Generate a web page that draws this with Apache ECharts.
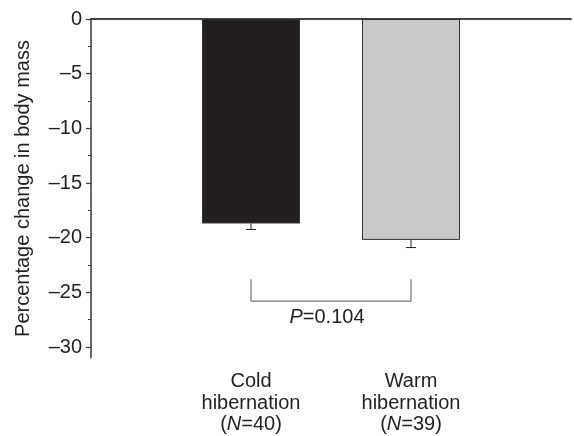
<!DOCTYPE html>
<html>
<head>
<meta charset="utf-8">
<script src="https://cdn.jsdelivr.net/npm/echarts@6/dist/echarts.min.js"></script>
<style>
  html, body { margin: 0; padding: 0; background: #fff; }
  #chart { width: 574px; height: 436px; }
</style>
</head>
<body>
<div id="chart"></div>
<script>
// categories (empty ends give the space either side of the two bars)
var categories = ['', 'Cold hibernation', 'Warm hibernation', ''];
var groupNames = ['Cold', 'Warm'];
var groupN = [40, 39];
var means = [-18.7, -20.2];
var errors = [0.55, 0.7];
var barColors = ['#231f20', '#c8c9cb'];
var majorTicks = [0, -5, -10, -15, -20, -25, -30];
var minorTicks = [-2.5, -7.5, -12.5, -17.5, -22.5, -27.5];
var bracketTop = -23.8;
var bracketBottom = -25.8;
var pLabel = '0.104';
var pLabelY = -27.3;

var ink = '#231f20';
var axisColor = '#3a3a3a';
var font = 'Liberation Sans';
var fs = 20;

var barData = categories.map(function (c, i) {
    if (i === 0 || i === categories.length - 1) return '-';
    return {
        value: means[i - 1],
        itemStyle: { color: barColors[i - 1], borderColor: '#333', borderWidth: 1 }
    };
});
var errData = means.map(function (m, i) { return [i + 1, m, m - errors[i]]; });

var chart = echarts.init(document.getElementById('chart'));

var option = {
    animation: false,
    grid: { left: 91, right: 0, top: 19, bottom: 78, containLabel: false },
    xAxis: [
        {
            type: 'category',
            data: categories,
            boundaryGap: false,
            axisLine: { lineStyle: { color: axisColor, width: 1.5 } },
            axisTick: {
                length: 5,
                lineStyle: { color: axisColor, width: 1.2 },
                interval: function (idx) { return idx === 1 || idx === 2; }
            },
            axisLabel: {
                interval: 0,
                margin: 13,
                color: ink,
                fontFamily: font,
                fontSize: fs,
                lineHeight: 21.5,
                formatter: function (v, idx) {
                    if (idx !== 1 && idx !== 2) return '';
                    return groupNames[idx - 1] + '\nhibernation\n({i|N}=' + groupN[idx - 1] + ')';
                },
                rich: {
                    i: { fontStyle: 'italic', fontFamily: font, fontSize: fs, color: ink, lineHeight: 21.5 }
                }
            },
            splitLine: { show: false }
        },
        {
            type: 'value',
            position: 'top',
            min: 0, max: 1,
            axisLine: { show: true, onZero: false, lineStyle: { color: axisColor, width: 1.5 } },
            axisTick: { show: false },
            axisLabel: { show: false },
            splitLine: { show: false }
        }
    ],
    yAxis: [
        {
            type: 'value',
            min: -31,
            max: 0,
            name: 'Percentage change in body mass',
            nameLocation: 'middle',
            nameGap: 58,
            nameTextStyle: { color: ink, fontFamily: font, fontSize: fs },
            axisLine: { show: true, lineStyle: { color: axisColor, width: 1.5 } },
            axisTick: { show: true, length: 5, customValues: majorTicks, lineStyle: { color: axisColor, width: 1.2 } },
            axisLabel: {
                customValues: majorTicks,
                margin: 9,
                color: ink,
                fontFamily: font,
                fontSize: fs,
                formatter: function (v) { return String(v).replace('-', '\u2013'); }
            },
            splitLine: { show: false }
        },
        {
            type: 'value',
            position: 'left',
            min: -31,
            max: 0,
            axisLine: { show: false },
            axisTick: { show: true, length: 3, customValues: minorTicks, lineStyle: { color: axisColor, width: 1 } },
            axisLabel: { show: false },
            splitLine: { show: false }
        }
    ],
    series: [
        {
            type: 'bar',
            data: barData,
            barWidth: 98,
            xAxisIndex: 0,
            yAxisIndex: 0
        },
        {
            // error bars, lower half only
            type: 'custom',
            xAxisIndex: 0,
            yAxisIndex: 0,
            data: errData,
            z: 5,
            renderItem: function (params, api) {
                var top = api.coord([api.value(0), api.value(1)]);
                var bot = api.coord([api.value(0), api.value(2)]);
                var cap = 5;
                return {
                    type: 'group',
                    children: [
                        { type: 'line', shape: { x1: top[0], y1: top[1], x2: bot[0], y2: bot[1] }, style: { stroke: ink, lineWidth: 1 } },
                        { type: 'line', shape: { x1: bot[0] - cap, y1: bot[1], x2: bot[0] + cap, y2: bot[1] }, style: { stroke: ink, lineWidth: 1 } }
                    ]
                };
            }
        },
        {
            // significance bracket and P value
            type: 'custom',
            xAxisIndex: 0,
            yAxisIndex: 0,
            data: [[1, 2, bracketTop, bracketBottom, pLabelY]],
            renderItem: function (params, api) {
                var a = api.coord([api.value(0), api.value(2)]);
                var b = api.coord([api.value(0), api.value(3)]);
                var c = api.coord([api.value(1), api.value(3)]);
                var d = api.coord([api.value(1), api.value(2)]);
                var ty = api.coord([api.value(0), api.value(4)])[1];
                var tx = (b[0] + c[0]) / 2 - 4;
                return {
                    type: 'group',
                    children: [
                        { type: 'polyline', shape: { points: [a, b, c, d] }, style: { stroke: '#555', lineWidth: 1, fill: null } },
                        {
                            type: 'text',
                            x: tx, y: ty,
                            style: {
                                text: '{i|P}=' + pLabel,
                                align: 'center',
                                verticalAlign: 'middle',
                                fill: ink,
                                font: fs + 'px ' + font,
                                rich: { i: { fontStyle: 'italic', fontFamily: font, fontSize: fs, fill: ink } }
                            }
                        }
                    ]
                };
            }
        }
    ]
};

chart.setOption(option);
</script>
</body>
</html>
